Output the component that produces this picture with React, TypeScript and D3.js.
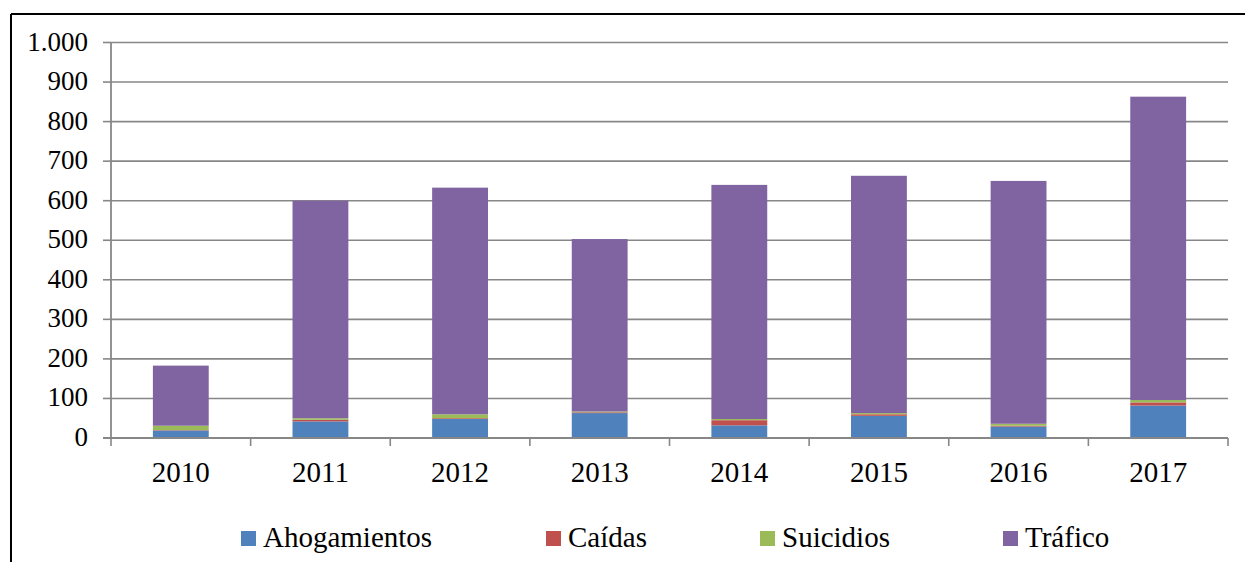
import React from "react";
import * as d3 from "d3";

const years = ["2010", "2011", "2012", "2013", "2014", "2015", "2016", "2017"];
const seriesNames = ["Ahogamientos", "Caídas", "Suicidios", "Tráfico"];
const ahogamientos = [19, 42, 48, 63, 32, 56, 29, 82];
const caidas = [1, 4, 2, 2, 13, 4, 2, 8];
const suicidios = [11, 4, 10, 2, 3, 3, 5, 6];
const trafico = [152, 550, 573, 436, 592, 600, 614, 767];
const yTicks = [0, 100, 200, 300, 400, 500, 600, 700, 800, 900, 1000];
const colors = ["#4F81BD", "#C0504D", "#9BBB59", "#8064A2"];

const W = 1245;
const H = 562;
const left = 111;
const right = 1228;
const top = 42.5;
const bottom = 438;
const font = "Liberation Serif, DejaVu Serif, serif";

const fmt = (v: number) => d3.format(",")(v).replace(/,/g, ".");

export default function App() {
  const rows = years.map((y, i) => ({
    year: y,
    Ahogamientos: ahogamientos[i],
    "Caídas": caidas[i],
    Suicidios: suicidios[i],
    "Tráfico": trafico[i],
  }));
  const stack = d3.stack<any>().keys(seriesNames)(rows);
  const x = d3.scaleBand().domain(years).range([left, right]).paddingInner(0.6).paddingOuter(0.3);
  const xb = d3.scaleBand().domain(years).range([left, right]);
  const y = d3.scaleLinear().domain([0, 1000]).range([bottom, top]);
  const grid = "#878787";
  const legendX = [241, 546, 760, 1003];
  const ts = { fontFamily: font };

  return (
    <svg width={W} height={H} style={{ position: "absolute", left: 0, top: 0, background: "#fff" }}>
      <rect x={0} y={0} width={W} height={H} fill="#fff" />
      <line x1={11} y1={14} x2={W} y2={14} stroke="#000" strokeWidth={2} />
      <line x1={11} y1={14} x2={11} y2={H} stroke="#000" strokeWidth={2} />
      {yTicks.map((t) => (
        <g key={t}>
          {t > 0 && <line x1={left} x2={right} y1={y(t)} y2={y(t)} stroke={grid} strokeWidth={1.6} />}
          <line x1={103} x2={left} y1={y(t)} y2={y(t)} stroke={grid} strokeWidth={1.6} />
          <text x={88} y={y(t) + 8} textAnchor="end" style={ts} fontSize={27} fill="#000">
            {fmt(t)}
          </text>
        </g>
      ))}
      {stack.map((s, si) => (
        <g key={s.key} fill={colors[si]}>
          {s.map((d: any, i: number) => (
            <rect
              key={i}
              x={x(years[i])}
              width={x.bandwidth()}
              y={y(d[1])}
              height={Math.max(0, y(d[0]) - y(d[1]))}
            />
          ))}
        </g>
      ))}
      <line x1={left} x2={left} y1={top} y2={bottom} stroke={grid} strokeWidth={1.8} />
      <line x1={103} x2={right} y1={bottom} y2={bottom} stroke={grid} strokeWidth={1.8} />
      {years.map((yr) => (
        <line key={"t" + yr} x1={xb(yr)} x2={xb(yr)} y1={bottom} y2={446} stroke={grid} strokeWidth={1.6} />
      ))}
      <line x1={right} x2={right} y1={bottom} y2={446} stroke={grid} strokeWidth={1.6} />
      {years.map((yr) => (
        <text
          key={"l" + yr}
          x={(x(yr) as number) + x.bandwidth() / 2}
          y={481.5}
          textAnchor="middle"
          style={ts}
          fontSize={29}
          fill="#000"
        >
          {yr}
        </text>
      ))}
      {seriesNames.map((n, i) => (
        <g key={n}>
          <rect x={legendX[i]} y={531} width={15} height={15} fill={colors[i]} />
          <text x={legendX[i] + 22} y={546.5} style={ts} fontSize={29} fill="#000">
            {n}
          </text>
        </g>
      ))}
    </svg>
  );
}
